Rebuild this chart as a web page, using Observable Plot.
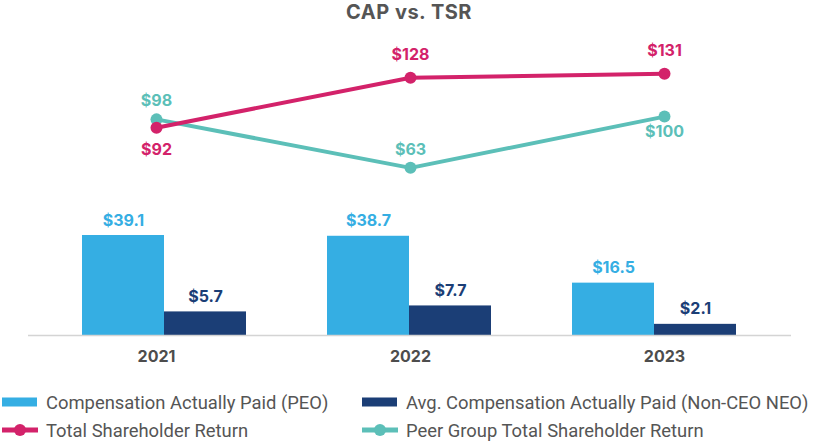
<!DOCTYPE html>
<html><head><meta charset="utf-8">
<script src="https://cdn.jsdelivr.net/npm/d3@7"></script>
<script src="https://cdn.jsdelivr.net/npm/@observablehq/plot@0.6"></script>
<style>
body{margin:0;background:#fff;}
#wrap{width:818px;}
#title{height:26px;line-height:24px;text-align:center;font-family:Inter,sans-serif;font-weight:700;font-size:20px;color:#555;letter-spacing:0.5px}
#chart{position:relative;width:818px;height:350px}
#chart svg{position:absolute;left:0;top:0}
#legend{position:relative;width:818px;height:68px;font-family:Roboto,sans-serif;font-size:18.4px;color:#555}
.item{position:absolute;display:flex;align-items:center;height:28px;white-space:nowrap}
.item svg{margin-right:8px}
</style></head>
<body>
<div id="wrap">
<div id="title">CAP vs. TSR</div>
<div id="chart"></div>
<div id="legend"></div>
</div>
<script>
const years = ["2021", "2022", "2023"];
const capPEO = [39.1, 38.7, 16.5];
const capNEO = [5.7, 7.7, 2.1];
const tsr = [92, 128, 131];
const peerTsr = [98, 63, 100];
const seriesKeys = ["PEO", "NEO"];
const seriesNames = ["Compensation Actually Paid (PEO)", "Avg. Compensation Actually Paid (Non-CEO NEO)"];
const lineNames = ["Total Shareholder Return", "Peer Group Total Shareholder Return"];

const light = "#35aee3", navy = "#1b3e76", magenta = "#d3226a", teal = "#5cbfb8";

const bars = years.flatMap((y, i) => [
  {year: y, series: "PEO", value: capPEO[i]},
  {year: y, series: "NEO", value: capNEO[i]}
]);
const lineRows = years.map((y, i) => ({year: y, tsr: tsr[i], peer: peerTsr[i]}));

const labelFont = {fontSize: 16, fontWeight: 700, fontFamily: "Inter"};

const barPlot = Plot.plot({
  width: 818, height: 350,
  marginLeft: 0, marginRight: 0, marginTop: 20, marginBottom: 41,
  fx: {domain: years, paddingInner: 0.332, paddingOuter: 0.332, axis: null},
  x: {domain: seriesKeys, padding: 0, axis: null},
  y: {type: "pow", exponent: 0.75, domain: [0, 39.1], range: [309, 209], axis: null},
  color: {domain: seriesKeys, range: [light, navy]},
  style: {background: "transparent"},
  marks: [
    Plot.barY(bars, {fx: "year", x: "series", y: "value", fill: "series"}),
    Plot.text(bars, {fx: "year", x: "series", y: "value", text: d => "$" + d.value.toFixed(1), fill: "series", dy: -15, ...labelFont})
  ]
});

const linePlot = Plot.plot({
  width: 818, height: 350,
  marginLeft: 28, marginRight: 27, marginTop: 20, marginBottom: 41,
  x: {type: "point", domain: years, padding: 0.5},
  y: {domain: [-58, 150.6], axis: null},
  style: {background: "transparent", color: "#4d4d4d"},
  marks: [
    Plot.ruleY([-58], {stroke: "#d4d4d4", strokeWidth: 1.5}),
    Plot.axisX({tickSize: 0, tickPadding: 15, label: null, fontSize: 16, fontWeight: 700, fontFamily: "Inter"}),
    Plot.line(lineRows, {x: "year", y: "peer", stroke: teal, strokeWidth: 4}),
    Plot.dot(lineRows, {x: "year", y: "peer", r: 6, fill: teal}),
    Plot.line(lineRows, {x: "year", y: "tsr", stroke: magenta, strokeWidth: 4}),
    Plot.dot(lineRows, {x: "year", y: "tsr", r: 6, fill: magenta}),
    Plot.text(lineRows.filter(d => d.year !== "2021"), {x: "year", y: "tsr", text: d => "$" + d.tsr, fill: magenta, dy: -23, ...labelFont}),
    Plot.text(lineRows.filter(d => d.year === "2021"), {x: "year", y: "tsr", text: d => "$" + d.tsr, fill: magenta, dy: 22, ...labelFont}),
    Plot.text(lineRows.filter(d => d.year !== "2023"), {x: "year", y: "peer", text: d => "$" + d.peer, fill: teal, dy: -18, ...labelFont}),
    Plot.text(lineRows.filter(d => d.year === "2023"), {x: "year", y: "peer", text: d => "$" + d.peer, fill: teal, dy: 15, ...labelFont})
  ]
});

const chart = document.getElementById("chart");
chart.appendChild(barPlot);
chart.appendChild(linePlot);

const legend = document.getElementById("legend");
const items = [
  {name: seriesNames[0], color: light, kind: "rect", left: 2, top: 12},
  {name: seriesNames[1], color: navy, kind: "rect", left: 362, top: 12},
  {name: lineNames[0], color: magenta, kind: "line", left: 2, top: 40},
  {name: lineNames[1], color: teal, kind: "line", left: 362, top: 40}
];
for (const it of items) {
  const div = document.createElement("div");
  div.className = "item";
  div.style.left = it.left + "px";
  div.style.top = it.top + "px";
  const sw = it.kind === "rect"
    ? `<svg width="36" height="14"><rect x="0" y="2.5" width="35" height="9" fill="${it.color}"/></svg>`
    : `<svg width="36" height="14"><line x1="0" x2="36" y1="7" y2="7" stroke="${it.color}" stroke-width="5" stroke-linecap="round"/><circle cx="18" cy="7" r="6" fill="${it.color}"/></svg>`;
  div.innerHTML = sw + `<span>${it.name}</span>`;
  legend.appendChild(div);
}
</script>
</body></html>
